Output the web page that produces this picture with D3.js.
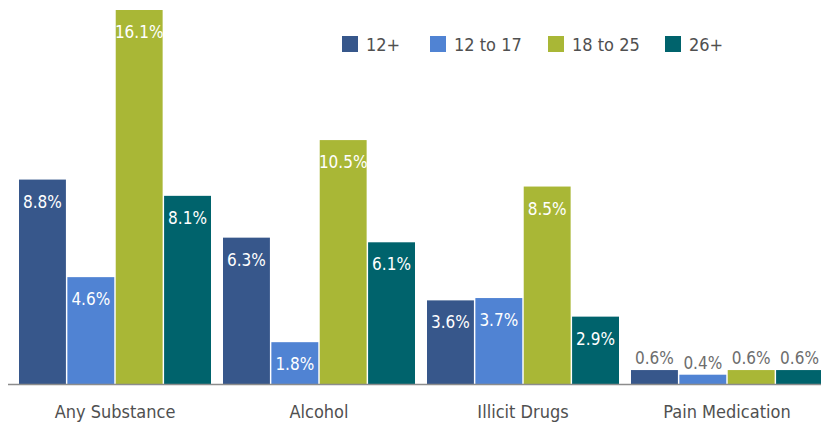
<!DOCTYPE html>
<html>
<head>
<meta charset="utf-8">
<script src="https://cdn.jsdelivr.net/npm/d3@7"></script>
<style>
  body { margin: 0; background: #fff; }
  text { font-family: "Liberation Sans Narrow", "DejaVu Sans Condensed", sans-serif; }
</style>
</head>
<body>
<div id="plot"></div>
<script>
var categories = ["Any Substance", "Alcohol", "Illicit Drugs", "Pain Medication"];
var seriesNames = ["12+", "12 to 17", "18 to 25", "26+"];
var age12plus = [8.8, 6.3, 3.6, 0.6];
var age12to17 = [4.6, 1.8, 3.7, 0.4];
var age18to25 = [16.1, 10.5, 8.5, 0.6];
var age26plus = [8.1, 6.1, 2.9, 0.6];
var colors = ["#37578b", "#5083d3", "#a9b736", "#00636c"];

var svgWidth = 821;
var svgHeight = 424;
var baseY = 384;

var series = [age12plus, age12to17, age18to25, age26plus];
var rows = categories.map(function (c, i) {
  return { cat: c, vals: series.map(function (s, j) { return { key: seriesNames[j], v: s[i], j: j }; }) };
});

var svg = d3.select("#plot")
  .append("svg")
  .attr("width", svgWidth)
  .attr("height", svgHeight);

var x0 = d3.scaleBand()
  .domain(categories)
  .range([13, 829])
  .paddingInner(0)
  .paddingOuter(0);

var x1 = d3.scaleBand()
  .domain(seriesNames)
  .range([6, x0.bandwidth() - 6])
  .paddingInner(0.03);

var y = d3.scaleLinear()
  .domain([0, 16.1])
  .range([baseY, 10]);

var groups = svg.selectAll(".grp")
  .data(rows)
  .enter()
  .append("g")
  .attr("transform", d => `translate(${x0(d.cat)},0)`);

groups.selectAll("rect")
  .data(d => d.vals)
  .enter()
  .append("rect")
  .attr("x", d => x1(d.key))
  .attr("y", d => y(d.v))
  .attr("width", x1.bandwidth())
  .attr("height", d => baseY - y(d.v))
  .attr("fill", d => colors[d.j]);

groups.selectAll(".val")
  .data(d => d.vals)
  .enter()
  .append("text")
  .attr("x", d => x1(d.key) + x1.bandwidth() / 2)
  .attr("y", d => d.v < 1 ? y(d.v) - 6 : y(d.v) + 28)
  .attr("text-anchor", "middle")
  .attr("font-size", "17px")
  .attr("fill", d => d.v < 1 ? "#6d6d6d" : "#fff")
  .text(d => d.v.toFixed(1) + "%");

// axis line
svg.append("line")
  .attr("x1", 8).attr("x2", svgWidth)
  .attr("y1", baseY + 0.5).attr("y2", baseY + 0.5)
  .attr("stroke", "#8c8c8c")
  .attr("stroke-width", 1.5);

var xAxis = d3.axisBottom(x0).tickSize(0).tickPadding(0);
var axisG = svg.append("g")
  .attr("transform", `translate(0, ${baseY})`)
  .call(xAxis);
axisG.select(".domain").remove();
axisG.selectAll("text")
  .attr("dy", 0)
  .attr("y", 34)
  .attr("font-size", "18px")
  .attr("font-family", "\"Liberation Sans Narrow\", sans-serif")
  .attr("fill", "#505050");

// legend
var legendX = [342, 430, 548, 665];
var legend = svg.selectAll(".leg")
  .data(seriesNames)
  .enter()
  .append("g")
  .attr("transform", (d, i) => `translate(${legendX[i]}, 36)`);

legend.append("rect")
  .attr("width", 16)
  .attr("height", 16)
  .attr("fill", (d, i) => colors[i]);

legend.append("text")
  .attr("x", 24)
  .attr("y", 14.5)
  .attr("font-size", "18px")
  .attr("fill", "#505050")
  .text(d => d);
</script>
</body>
</html>
